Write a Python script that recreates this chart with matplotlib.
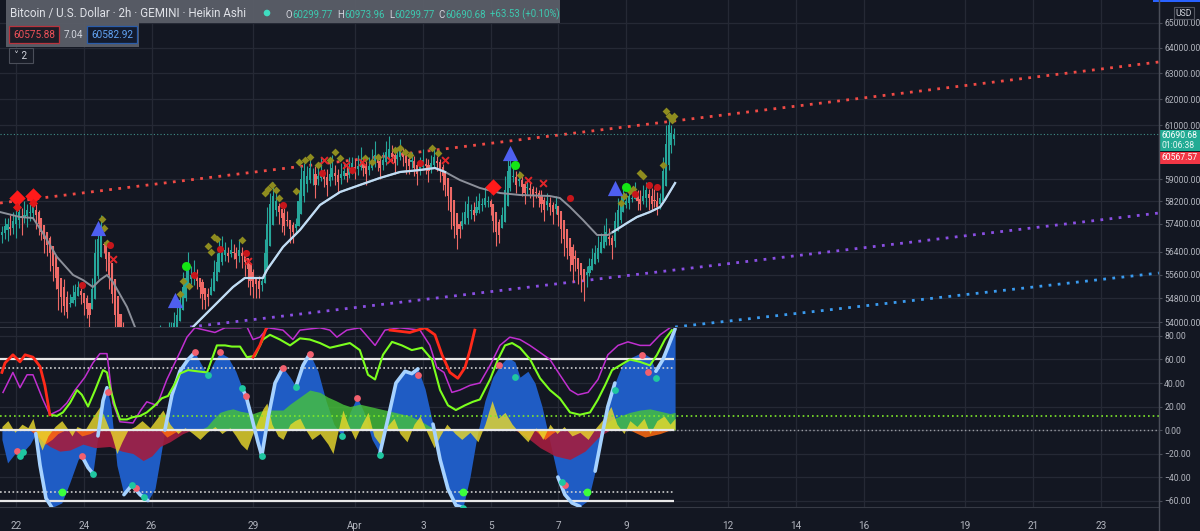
import numpy as np
import matplotlib
matplotlib.use("Agg")
import matplotlib.pyplot as plt
from matplotlib.patches import Rectangle, Circle
from matplotlib.ticker import NullLocator

plt.rcParams['font.family'] = ['Roboto', 'DejaVu Sans']

# ====================== DATA ======================
# Heikin Ashi closes, one per 2h bar (bar 0 = Mar 21 14:00)
ha_close = [
    57100, 57300, 57400, 57200,
    57500, 57700, 57800, 57600, 57700, 57900, 57800, 58000, 57700,
    57400, 57100, 56850, 56650, 56350, 55900, 55500, 55100, 54850,
    54550, 54350, 54650, 54850, 55000, 55200, 54900, 54650, 54450, 54250,
    55100, 56350, 56850, 57100,
    56650, 56150, 55600, 54950, 54250, 53700, 53300,
    53000, 52700, 52500, 52300, 52400, 52600, 52800, 52600, 52500, 52700, 52900, 53100, 53300, 53500, 53400, 53600, 53700, 53800, 53950,
    54250, 54750, 55200, 55500, 55800, 55600, 55700, 55400,
    55200, 54950, 54750, 54850,
    55200, 55700, 56050, 56350, 56550, 56450, 56250, 56450,
    56350, 56150, 56450, 56250, 56050,
    55800, 55400, 55200, 55300, 55100, 55400,
    56350, 57400, 58100, 58400, 58200,
    57800, 57600, 57300, 57500, 57200, 57100, 57400,
    58200, 59000, 59300, 59100, 59400, 59200, 58800, 59100, 59300, 59000, 58800, 59200, 59400, 59100, 58900, 59200, 59300,
    59100, 59400, 59600, 59300, 59500, 59700, 59400, 59200, 59500, 59700, 59900, 59600, 59400, 59700, 60000, 60100, 59800, 59600, 59900, 60100, 59800, 59600,
    59500, 59700, 59400, 59200, 59500, 59700, 59500, 59300, 59600, 59800, 59600, 59300, 59100, 58800,
    58400, 57800, 57300, 57000, 57200,
    57500, 57800, 58100, 57900, 57700, 58000, 58200, 58100, 58300, 58200, 58000,
    57500, 57100, 57000,
    57700, 58600, 59300, 59500,
    59100, 58800, 59000, 58700, 58500, 58700, 58600, 58400, 58500, 58300,
    58100, 57900, 58200, 58000, 57800, 58100,
    57700, 57200, 56850, 56550, 56250, 55950, 56150, 55800, 55600, 55400, 55700,
    55900, 56150, 56350, 56550, 56750, 56950, 57100, 56850, 56650,
    57500, 57900, 58100, 58300, 58200, 58400, 58300, 58500, 58200,
    58100, 58400, 58600, 58300, 58100, 58200, 58000, 58300,
    59300, 60300, 61000, 60700, 60690.68,
]
ha_open_first = 57000
# upper / lower wick lengths (hundreds of USD)
wick_up = [
    2, 3, 2, 4,
    3, 2, 4, 3, 5, 2, 3, 4, 2,
    1, 0, 0, 0, 1, 0, 0, 0, 0,
    3, 2, 3, 4, 3, 2, 1, 0, 1, 0,
    4, 5, 3, 6,
    1, 0, 0, 0, 0, 0, 0,
    2, 1, 2, 3, 2, 1, 2, 3, 2, 1, 2, 3, 2, 4, 3, 2, 3, 2, 4,
    4, 3, 5, 4, 6, 3, 4, 2,
    0, 1, 0, 2,
    3, 4, 3, 5, 4, 3, 2, 4,
    3, 2, 4, 2, 1,
    0, 0, 1, 0, 2, 1,
    5, 6, 4, 5, 3,
    1, 0, 2, 3, 0, 1, 2,
    4, 5, 3, 4, 5, 2, 3, 4, 5, 2, 3, 4, 5, 3, 2, 4, 3,
    3, 4, 2, 3, 4, 5, 2, 2, 3, 4, 5, 2, 2, 3, 4, 5, 3, 2, 3, 4, 2, 2,
    2, 3, 2, 1, 3, 4, 2, 2, 3, 4, 2, 1, 1, 0,
    0, 0, 0, 0, 1,
    3, 4, 3, 2, 3, 4, 3, 2, 4, 2, 1,
    0, 0, 1,
    3, 5, 4, 6,
    3, 2, 3, 2, 1, 3, 2, 1, 2, 1,
    2, 1, 3, 2, 1, 3,
    0, 0, 0, 0, 0, 1, 2, 0, 0, 0, 2,
    3, 4, 3, 4, 3, 4, 5, 3, 1,
    3, 4, 3, 4, 3, 2, 3, 4, 2,
    3, 4, 3, 2, 3, 4, 3, 2,
    5, 7, 4, 3, 2,
]
wick_dn = [
    3, 2, 4, 2,
    2, 5, 3, 6, 2, 4, 3, 2, 5,
    4, 3, 5, 4, 6, 5, 4, 7, 5,
    3, 2, 1, 0, 2, 0, 3, 4, 3, 5,
    0, 0, 1, 0,
    3, 4, 5, 3, 6, 4, 5,
    4, 3, 2, 3, 2, 4, 3, 2, 1, 2, 3, 2, 1, 2, 1, 2, 1, 0, 0,
    0, 0, 0, 1, 0, 2, 3, 3,
    4, 5, 3, 3,
    0, 0, 0, 0, 1, 2, 2, 1,
    2, 3, 2, 4, 5,
    6, 5, 4, 5, 3, 2,
    0, 0, 0, 0, 2,
    4, 5, 3, 2, 5, 4, 2,
    0, 0, 2, 3, 1, 4, 5, 2, 1, 3, 4, 2, 1, 3, 4, 2, 1,
    2, 1, 1, 3, 2, 1, 3, 4, 2, 1, 1, 3, 4, 2, 1, 1, 2, 4, 2, 1, 3, 4,
    3, 2, 3, 4, 2, 1, 3, 4, 2, 1, 3, 4, 5, 4,
    5, 6, 4, 5, 3,
    1, 0, 2, 3, 2, 1, 1, 2, 1, 2, 3,
    4, 5, 3,
    0, 0, 0, 1,
    2, 3, 2, 3, 4, 2, 3, 4, 2, 3,
    3, 4, 2, 3, 4, 2,
    4, 5, 6, 4, 5, 6, 4, 5, 6, 7, 4,
    1, 0, 0, 1, 0, 0, 1, 2, 5,
    2, 0, 1, 0, 1, 2, 1, 0, 3,
    2, 1, 3, 4, 2, 2, 3, 2,
    0, 0, 2, 3, 2,
]

date_tick_bar = [5, 29, 53, 89, 125, 149, 173, 197, 221, 257, 281, 305, 341, 365, 389]
date_tick_lbl = ['22', '24', '26', '29', 'Apr', '3', '5', '7', '9', '12', '14', '16', '19', '21', '23']
price_ticks = [54000, 54800, 55600, 56400, 57400, 58200, 59000, 61000, 62000, 63000, 64000, 65000]
osc_ticks = [80, 60, 40, 20, 0, -20, -40, -60]
osc_tick_lbl = ['80.00', '60.00', '40.00', '20.00', '0.00', '\u221220.00', '\u221240.00', '\u221260.00']

last_price = 60690.68
header_title = 'Bitcoin / U.S. Dollar \u00b7 2h \u00b7 GEMINI \u00b7 Heikin Ashi'
header_ohlc = [('O', 60299.77), ('H', 60973.96), ('L', 60299.77), ('C', 60690.68)]
header_change = '+63.53 (+0.10%)'
bid_price, spread, ask_price = '60575.88', '7.04', '60582.92'
countdown = '01:06:38'
prev_close_label = '60567.57'

# moving average (gray when falling, light when rising)
ma_bar = [-0.7, 6.4, 11, 14.5, 19.5, 25.2, 28.7, 32.2, 34.7, 37.2, 39.3, 44.3, 47.1, 49.6, 52.4, 57.7, 63, 67.6,
          74.7, 81.8, 86, 92.4, 93.8, 99.5, 105.5, 112.6, 119.7, 126.7, 133.8, 140.9, 148, 153.3, 156.9,
          162.1, 169.2, 176.3, 183.4, 194, 197.5, 201.1, 205.7, 210.7, 214.5, 216.3,
          221.3, 224.8, 229.4, 233, 234.7, 238.3]
ma_price = [57812, 57633, 57597, 57064, 56221, 55597, 55425, 55185, 55425, 55597, 55356, 54505, 53833, 53235, 52742, 52416, 52907, 53833,
            54505, 55185, 55494, 55494, 55770, 56571, 57170, 58063, 58533, 58788, 59044, 59263, 59337, 59411, 59263,
            58971, 58679, 58497, 58424, 58388, 58316, 57991, 57526, 56993, 56993, 57100,
            57419, 57633, 57812, 57991, 58243, 58860]
ma_light_ranges = [(67.6, 156.9), (216.3, 238.3)]

trend_red_bar, trend_red_price = [-0.67, 409.6], [58135, 63448]
trend_purple_bar, trend_purple_price = [66.6, 409.6], [53833, 57776]
trend_blue_bar, trend_blue_price = [238.3, 409.6], [53833, 55666]

olive_bar = [35.4, 36.1, 37.2, 63.0, 64.1, 66.2, 73.0, 74.0, 75.1, 76.1, 85.0, 93.1, 94.2, 95.6, 97.0, 98.1,
             104.1, 105.2, 107.3, 109.1, 111.9, 116.1, 117.9, 119.7, 128.5, 131.0, 133.1, 139.1, 140.9, 142.7,
             144.5, 152.2, 154.4, 183.4, 219.2, 220.2, 222.3, 223.4, 225.9, 227.0, 234.0, 235.1, 236.1, 237.2, 237.9]
olive_price = [57561, 57241, 56711, 54946, 55391, 55219, 56606, 56396, 56922, 56852, 56817, 58497, 58642, 58788, 58606, 58316,
               58569, 59632, 59706, 59817, 59522, 59706, 60003, 59780, 59780, 59632, 59817, 60078, 60152, 60003,
               59892, 60152, 59966, 59153, 58135, 58388, 58569, 58642, 59227, 59117, 59522, 61548, 61358, 61206, 61358]
bigdia_bar, bigdia_price = [5.3, 11.0, 173.8], [58316, 58388, 58715]
smalldia_bar, smalldia_price = [5.3, 11.0], [57991, 58135]
tri_bar, tri_price = [34.0, 61.3, 179.9, 217.0], [57241, 54742, 59966, 58679]
gdot_bar, gdot_price = [65.2, 181.6, 220.9], [55908, 59522, 58715]
rdot_bar = [28.4, 38.3, 68.0, 77.2, 86.4, 99.5, 113.3, 123.9, 148.0, 201.1, 224.1, 229.1, 231.9]
rdot_price = [55253, 56641, 55597, 56501, 56361, 58063, 59227, 59337, 59595, 58316, 58461, 58788, 58715]
rx_bar = [39.3, 87.1, 114.0, 121.8, 127.5, 137.4, 156.9, 186.2, 191.5]
rx_price = [56151, 56081, 59706, 59522, 59632, 59706, 59706, 58971, 58860]

# ---- oscillator pane ----
wave_bar = [0, 2, 5.3, 7, 10, 12, 13.5, 15.6, 17.7, 21.2, 24, 27, 28.3, 30.5, 32.2, 34, 35.8, 37.2, 38.6, 40.7,
            43.2, 46, 48.9, 51.7, 54.2, 56, 57.7, 60.2, 63, 65.9, 68.3, 70.8, 72.9, 75.1, 77.2, 80, 82.8, 85, 86.4, 88.5,
            90.6, 92, 94.2, 96.7, 99.5, 102, 104.1, 106.6, 109, 111.9, 114.7, 117.5, 120.4, 123.2, 125.7, 128.2, 131, 133.8, 136.7, 139.5,
            142.7, 145.1, 147.3, 149.8, 152.6, 155.1, 157.9, 160.7, 163.2, 165.7, 168.2, 171, 173.8, 176.3, 179.1, 181.6, 183.4, 186.2, 188.7, 191.2,
            194, 196.8, 199.3, 201.8, 204.6, 207.5, 210, 212.4, 214.5, 217, 219.5, 223, 226.6, 229.4, 231.5, 234, 236.5, 238.3]
wave_val = [-8, -28, -18, -20, -12, -3, -30, -58, -66, -62, -45, -25, -22, -32, -37, -5, 25, 36, 20, -30,
            -55, -47, -55, -60, -50, -25, 0, 30, 50, 60, 66, 55, 47, 58, 66, 62, 50, 36, 29, 10,
            -10, -22, 10, 40, 53, 45, 37, 55, 65, 50, 25, 5, -5, 15, 28, 15, -8, -20, 10, 40,
            50, 48, 52, 35, 5, -25, -50, -64, -66, -40, -5, 25, 45, 55, 62, 58, 45, 50, 40, 20,
            -10, -40, -55, -62, -65, -60, -35, -5, 20, 40, 55, 62, 66, 62, 50, 60, 75, 86]
wave_edge_ranges = [(12, 17.7), (28.3, 32.2), (34, 37.2), (43.2, 51.7), (57.7, 68.3), (85, 92), (92, 99.5),
                    (104.1, 109), (133.8, 147.3), (152.6, 163.2), (196.8, 204.6), (210, 217), (231.5, 238.3)]

pink_bar = [5.3, 28.3, 37.5, 47.5, 68.3, 77.2, 86.4, 99.5, 109, 125.7, 147.3, 176, 199.3, 226.6, 228.7]
pink_val = [-18, -22, 32, -49, 66, 66, 29, 53, 65, 27, 47, 55, -47, 64, 49]
teal_bar = [6.4, 7.4, 32.2, 46, 50.2, 72.9, 85, 92, 104.1, 120.4, 133.8, 163.2, 181.6, 198.3, 217, 231.5]
teal_val = [-22, -19, -37, -47, -57, 47, 36, -22, 37, -5, -21, -66, 45, -44, 34, 44]
lime_dot_bar = [21.2, 163.2, 207.1]
lime_dot_val = [-53, -53, -53]

lime_bar = [17, 19.5, 21.6, 24.1, 26.6, 28.3, 30.5, 33, 35.8, 37.2, 38.2, 40, 41.8, 44.3, 46.4, 48.9, 51.3, 54.2, 56.6, 58.8,
            60.9, 63, 65.9, 69, 72.6, 74.3, 76.1, 79, 81.4, 84.3, 86.7, 89.6, 92.4, 94.9, 98.4, 102, 105.5, 109, 112.6, 116.1,
            119.7, 123.2, 126.7, 129.6, 132.1, 134.9, 138.1, 141.6, 145.1, 148.7, 152.2, 155.1, 157.9, 160.7, 163.9, 166.7, 169.2, 172.8, 175.6, 178.1,
            180.6, 183.4, 187, 190.5, 194, 197.5, 201.1, 204.6, 208.2, 211, 213.5, 216, 218.8, 222.3, 225.9, 229.4, 231.9, 234.7, 237.2]
lime_val = [13, 12, 15, 23, 34, 30, 20, 34, 51, 49, 37, 21, 9, 9, 11, 12, 15, 21, 27, 29,
            38, 48, 51, 50, 49, 60, 72, 72, 71, 71, 62, 63, 77, 81, 77, 72, 78, 77, 74, 70,
            72, 74, 68, 47, 43, 64, 75, 72, 68, 70, 60, 34, 21, 17, 21, 24, 26, 43, 60, 72,
            74, 70, 60, 44, 34, 27, 15, 13, 15, 26, 38, 51, 55, 60, 58, 55, 64, 77, 85]
mag_bar = [0.4, 3.9, 6.4, 8.9, 11, 14.5, 17, 20.5, 23, 25.9, 29.4, 32.2, 34.7, 37.2, 39.3, 41.8, 46.4, 49.2, 51.3, 54.9,
           58.4, 63, 65.5, 68.3, 71.9, 75.4, 79, 84.3, 86.7, 88.9, 91.3, 94.2, 99.5, 103, 105.5, 112.6, 116.1, 118.6, 122.1, 126.7,
           132.1, 135.6, 140.9, 148, 151.5, 154, 156.5, 159.3, 162.1, 165.7, 169.2, 172.8, 176.3, 179.8, 183.4, 186.9, 190.5, 194, 197.5, 201.1,
           203.9, 207.5, 211, 214.5, 218.1, 221.6, 225.9, 229.4, 233, 236.5]
mag_val = [32, 49, 36, 47, 47, 26, 13, 17, 23, 34, 45, 57, 65, 65, 23, 7, 6, 17, 24, 21,
           43, 66, 79, 87, 85, 83, 87, 87, 88, 77, 79, 87, 85, 77, 85, 87, 85, 79, 85, 87,
           72, 85, 87, 85, 72, 53, 49, 32, 34, 38, 40, 55, 72, 79, 77, 72, 66, 60, 47, 34,
           30, 32, 43, 64, 72, 75, 72, 72, 81, 87]
red_segments = [
    ([0, 1.1, 3.9, 6.4, 8.2, 11, 13.5, 15.2, 17], [49, 57, 64, 58, 64, 62, 54, 38, 13]),
    ([88.9, 91.3, 93.8], [62, 72, 88]),
    ([137.4, 144.4, 149.8, 153.3, 155.8, 158.6, 161.4, 163.9, 165.7, 167.4], [85, 83, 87, 81, 64, 49, 44, 53, 68, 85]),
]
yellow_bar = [0, 2.1, 4.6, 7.1, 9.2, 11, 12.8, 14.2, 16.3, 18.8, 21.2, 23, 24.8, 26.6, 29.4, 31.9, 34.7, 36.8, 38.9, 40.7,
              42.5, 44.6, 47.1, 49.6, 52.4, 54.9, 57, 59.5, 62.3, 64.8, 67.6, 70.1, 72.6, 75.4, 77.9, 80.7, 82.8, 84.6, 86.7, 88.5,
              90.6, 92.4, 93.8, 95.6, 97.7, 99.5, 102, 103.7, 105.5, 107.6, 109.7, 112.6, 115.4, 117.2, 118.6, 120.7, 122.5, 125, 127.4, 129.6,
              131.7, 133.8, 136.3, 138.8, 140.9, 143.4, 145.9, 148, 150.5, 153, 155.1, 157.5, 160.4, 162.8, 165.7, 168.5, 171, 173.5, 175.6, 178.1,
              180.6, 183.4, 186.2, 189, 191.5, 194, 196.5, 199, 201.8, 204.6, 207.5, 210.3, 213.1, 215.6, 217.7, 220.2, 222.3, 224.8, 227.3, 229.4,
              231.9, 234.4, 236.5, 238.3]
yellow_val = [3, 8, -2, 5, 2, 10, -8, -17, -5, 3, 8, 2, -5, 3, 0, 10, 20, 8, -5, -20,
              -10, 0, 3, 8, 2, 10, 17, 5, -3, 2, -3, -8, -2, 3, -3, 2, -5, -12, -17, -5,
              8, 18, 23, 5, -5, -8, 5, 8, 10, 0, -8, -3, -12, -20, -5, 17, 5, -8, 5, 15,
              -5, -12, 3, 10, -3, -10, 5, 12, -2, -15, -5, 5, -3, -8, -2, -10, 5, 25, 10, 15,
              5, -3, -10, 2, -8, 5, -3, 3, -5, -2, -8, 2, 10, 20, 5, -3, 8, 3, 10, -3,
              8, 12, 5, 10]
maroon_segments = [
    ([9.9, 13.5, 17, 20.5, 24.1, 28.7, 32.9, 38.2, 42.5, 46.4, 50, 53.1, 56, 59.5, 64.1, 67.3],
     [0, -8, -14, -18, -17, -12, -15, -14, -18, -20, -26, -22, -14, -10, -3, 0]),
    ([181.6, 185.2, 190.5, 195.8, 201.1, 206.4, 211.7, 215.2], [0, -5, -15, -22, -25, -18, -5, 0]),
]
orange_segments = [
    ([9.9, 12.8, 15.2, 17.7, 19.8, 22.3], [0, -5, -12, -8, -3, 0]),
    ([25.9, 28.3, 31.2, 33.6], [0, -5, -3, 0]),
    ([56, 58.4, 61.2, 63], [0, -6, -2, 0]),
    ([188.7, 192.2, 194.7, 196.8], [0, -8, -3, 0]),
    ([222.3, 227.6, 233, 236.5], [0, -6, -3, 0]),
]
green_segments = [
    ([70.1, 72.6, 75.1, 77.2, 79.7, 81.8, 84.3, 86.7, 88.9, 91.3, 93.8, 96.6, 99.5, 102, 105.5, 109, 112.6, 115.4, 118.2, 120.7,
      123.2, 126.7, 130.3, 133.8, 137.4, 140.9, 144.4, 148, 151.5, 154.4],
     [0, 3, 10, 15, 17, 18, 16, 15, 14, 16, 17, 17, 17, 22, 28, 34, 32, 28, 25, 22,
      20, 22, 20, 18, 16, 14, 12, 8, 3, 0]),
    ([211.7, 215.2, 218.8, 222.3, 225.9, 229.4, 233, 236.5, 238.3], [0, 8, 12, 15, 17, 18, 16, 14, 15]),
]
osc_levels_solid = [60, 0, -60]
osc_levels_dotted = [53, -53]
osc_level_signal = 12

# ====================== STYLE ======================
BG = '#131722'
GRID = '#252935'
AXC = '#4a4e59'
TXT = '#b2b5be'
UPC = '#26a69a'
DNC = '#ef6a67'

W, H = 1200, 531
fig = plt.figure(figsize=(W / 100, H / 100), dpi=100, facecolor=BG)
ax = fig.add_axes([0, 1 - 327 / H, 1159 / W, 327 / H])
axo = fig.add_axes([0, 1 - 507 / H, 1159 / W, 179 / H], sharex=ax)

n = len(ha_close)
c = np.array(ha_close, float)
o = np.empty(n)
o[0] = ha_open_first
for k in range(1, n):
    o[k] = (o[k - 1] + c[k - 1]) / 2
hi = np.maximum(o, c) + np.array(wick_up) * 100
lo = np.minimum(o, c) - np.array(wick_dn) * 100
idx = np.arange(n)
cols = np.where(c >= o, UPC, DNC)

for a in (ax, axo):
    a.set_facecolor(BG)
    a.grid(True, color=GRID, lw=0.9, zorder=0)
    a.set_axisbelow(True)
    for s in ('top', 'left'):
        a.spines[s].set_visible(False)
    a.spines['right'].set_color(AXC)
    a.yaxis.tick_right()
    a.tick_params(axis='y', colors=AXC, labelcolor=TXT, labelsize=6.2, length=2.5, pad=1.2, direction='out')

ax.set_xlim(-0.67, 409.6)

# ---- price pane ----
ax.set_yscale('log')
ax.set_ylim(53833, 65933)
ax.set_yticks(price_ticks)
ax.set_yticklabels(['%.2f' % p for p in price_ticks])
ax.yaxis.set_minor_locator(NullLocator())
ax.set_xticks(date_tick_bar)
ax.tick_params(axis='x', labelbottom=False, length=0)
ax.spines['bottom'].set_color('#363a45')

ax.plot(trend_red_bar, trend_red_price, color='#f04a45', lw=2.0, ls=(0, (1, 2.3)), zorder=2)
ax.plot(trend_purple_bar, trend_purple_price, color='#8a4fe3', lw=2.0, ls=(0, (1, 2.3)), zorder=2)
ax.plot(trend_blue_bar, trend_blue_price, color='#3a9bf0', lw=2.0, ls=(0, (1, 2.3)), zorder=2)
ax.axhline(last_price, color='#3f8f88', lw=0.8, ls=(0, (1, 2)), zorder=2)

ax.vlines(idx, lo, hi, colors=cols, lw=0.8, zorder=3)
ax.bar(idx, np.maximum(np.abs(c - o), 12), bottom=np.minimum(o, c), width=0.74, color=cols, lw=0, zorder=4)

mb = np.array(ma_bar)
mp = np.array(ma_price)
ax.plot(mb, mp, color='#8c909a', lw=1.4, zorder=5)
for a0, a1 in ma_light_ranges:
    m = (mb >= a0 - 1e-6) & (mb <= a1 + 1e-6)
    ax.plot(mb[m], mp[m], color='#bfdcf4', lw=1.6, zorder=5)

ax.scatter(olive_bar, olive_price, marker='D', s=16, color='#8e8c1f', zorder=6, lw=0)
ax.scatter(bigdia_bar, bigdia_price, marker='D', s=70, color='#ff1a1a', zorder=7, lw=0)
ax.scatter(smalldia_bar, smalldia_price, marker='D', s=22, color='#e01818', zorder=7, lw=0)
ax.scatter(tri_bar, tri_price, marker='^', s=120, color='#4e5ff0', zorder=7, lw=0)
ax.scatter(gdot_bar, gdot_price, marker='o', s=42, color='#14e614', zorder=7, lw=0)
ax.scatter(rdot_bar, rdot_price, marker='o', s=26, color='#c7161b', zorder=7, lw=0)
ax.scatter(rx_bar, rx_price, marker='x', s=24, color='#e3262a', zorder=7, lw=1.4)

# ---- oscillator pane ----
axo.set_ylim(-65.5, 86.8)
axo.set_yticks(osc_ticks)
axo.set_yticklabels(osc_tick_lbl)
axo.set_xticks(date_tick_bar)
axo.set_xticklabels(date_tick_lbl)
axo.tick_params(axis='x', colors=TXT, labelsize=7.2, length=0, pad=10)
axo.spines['bottom'].set_color('#363a45')

wb = np.array(wave_bar)
wv = np.array(wave_val, float)
axo.fill_between(wb, 0, wv, color='#1f5cc4', lw=0, zorder=2)
for xs, vs in maroon_segments:
    axo.fill_between(xs, 0, vs, color='#a31d3f', alpha=0.9, lw=0, zorder=3)
for xs, vs in orange_segments:
    axo.fill_between(xs, 0, vs, color='#ff6a10', alpha=0.85, lw=0, zorder=3)
for xs, vs in green_segments:
    axo.fill_between(xs, 0, vs, color='#46c43a', alpha=0.8, lw=0, zorder=4)
axo.fill_between(yellow_bar, 0, yellow_val, color='#e8d82c', alpha=0.82, lw=0, zorder=4)

end_bar = n - 1
for lv in osc_levels_solid:
    axo.hlines(lv, -0.67, end_bar, color='#e8e8e8', lw=1.6, zorder=6)
for lv in osc_levels_dotted:
    axo.hlines(lv, -0.67, end_bar, color='#cfcfcf', lw=1.2, ls=(0, (1, 1.5)), zorder=6)
axo.axhline(osc_level_signal, color='#7ee82a', lw=1.2, ls=(0, (1, 1.8)), zorder=6)
axo.axhline(0, color='#9a9ca3', lw=1.0, ls=(0, (1, 1.8)), zorder=5)

for a0, a1 in wave_edge_ranges:
    m = (wb >= a0 - 1e-6) & (wb <= a1 + 1e-6)
    axo.plot(wb[m], wv[m], color='#a6d2ff', lw=2.6, solid_capstyle='round', zorder=7)

axo.plot(mag_bar, mag_val, color='#c02fd0', lw=1.1, zorder=8)
axo.plot(lime_bar, lime_val, color='#7cff1e', lw=1.5, zorder=8)
for xs, vs in red_segments:
    axo.plot(xs, vs, color='#ff2a1a', lw=2.0, zorder=8)

axo.scatter(pink_bar, pink_val, s=24, color='#f2606e', zorder=9, lw=0)
axo.scatter(teal_bar, teal_val, s=24, color='#1fc7a0', zorder=9, lw=0)
axo.scatter(lime_dot_bar, lime_dot_val, s=32, color='#3cff3c', zorder=9, lw=0)

# ---- overlay in pixel coordinates ----
ov = fig.add_axes([0, 0, 1, 1], zorder=20)
ov.set_xlim(0, W)
ov.set_ylim(H, 0)
ov.axis('off')
ov.patch.set_alpha(0)

ov.plot([1159, 1159], [0, H], color=AXC, lw=1)
ov.add_patch(Rectangle((1153, 0), 47, 2.2, color='#2962ff', lw=0))
ov.add_patch(Rectangle((1174, 7), 20, 12, facecolor=BG, edgecolor='#50535e', lw=0.8))
ov.text(1184, 13, 'USD', color='#d1d4dc', fontsize=6.2, ha='center', va='center')

# last price / countdown / previous close labels
ov.add_patch(Rectangle((1159, 130), 41, 20.5, color='#22ab94', lw=0))
ov.text(1162, 135.5, '%.2f' % last_price, color='white', fontsize=6.2, va='center', ha='left')
ov.text(1162, 145.3, countdown, color='#e8f7f4', fontsize=6.2, va='center', ha='left')
ov.add_patch(Rectangle((1159, 151.5), 41, 12, color='#f23645', lw=0))
ov.text(1162, 157.5, prev_close_label, color='white', fontsize=6.2, va='center', ha='left')

# header
ov.add_patch(Rectangle((6, 0), 554, 23, facecolor='#5c606a', alpha=0.92, lw=0))
ov.add_patch(Rectangle((6, 23), 133, 24, facecolor='#5c606a', alpha=0.92, lw=0))
ov.text(10, 19.5, header_title, color='#e0e2e8', fontsize=8.4, ha='left', va='bottom')
ov.add_patch(Circle((267, 13), 3.3, color='#3fdcc0', lw=0))
prev = ov.text(286, 19.5, header_ohlc[0][0], color='#d1d4dc', fontsize=6.9, ha='left', va='bottom')
first = True
for lab, val in header_ohlc:
    if not first:
        prev = ov.annotate(lab, xy=(1, 0), xycoords=prev, xytext=(3.2, 0), textcoords='offset points',
                           color='#d1d4dc', fontsize=6.9, ha='left', va='bottom')
    first = False
    prev = ov.annotate('%.2f' % val, xy=(1, 0), xycoords=prev, color='#3dc9b0', fontsize=6.9, ha='left', va='bottom')
ov.annotate(header_change, xy=(1, 0), xycoords=prev, xytext=(3.2, 0), textcoords='offset points',
            color='#3dc9b0', fontsize=6.9, ha='left', va='bottom')

ov.add_patch(Rectangle((9, 26), 50, 17, facecolor='#1c1d27', edgecolor='#b8323c', lw=0.9))
ov.text(34, 34.8, bid_price, color='#f0525a', fontsize=7.2, ha='center', va='center')
ov.text(73, 34.8, spread, color='#d1d4dc', fontsize=7.2, ha='center', va='center')
ov.add_patch(Rectangle((87, 26), 50, 17, facecolor='#131b2e', edgecolor='#2a5caa', lw=0.9))
ov.text(112, 34.8, ask_price, color='#62a4f4', fontsize=7.2, ha='center', va='center')
ov.add_patch(Rectangle((9, 48), 24, 15, facecolor='#181c27', edgecolor='#4a4e59', lw=0.8))
ov.text(21, 55.8, '\u02c5 2', color='#d1d4dc', fontsize=7.2, ha='center', va='center')

fig.savefig('out.png', dpi=100, facecolor=BG)
